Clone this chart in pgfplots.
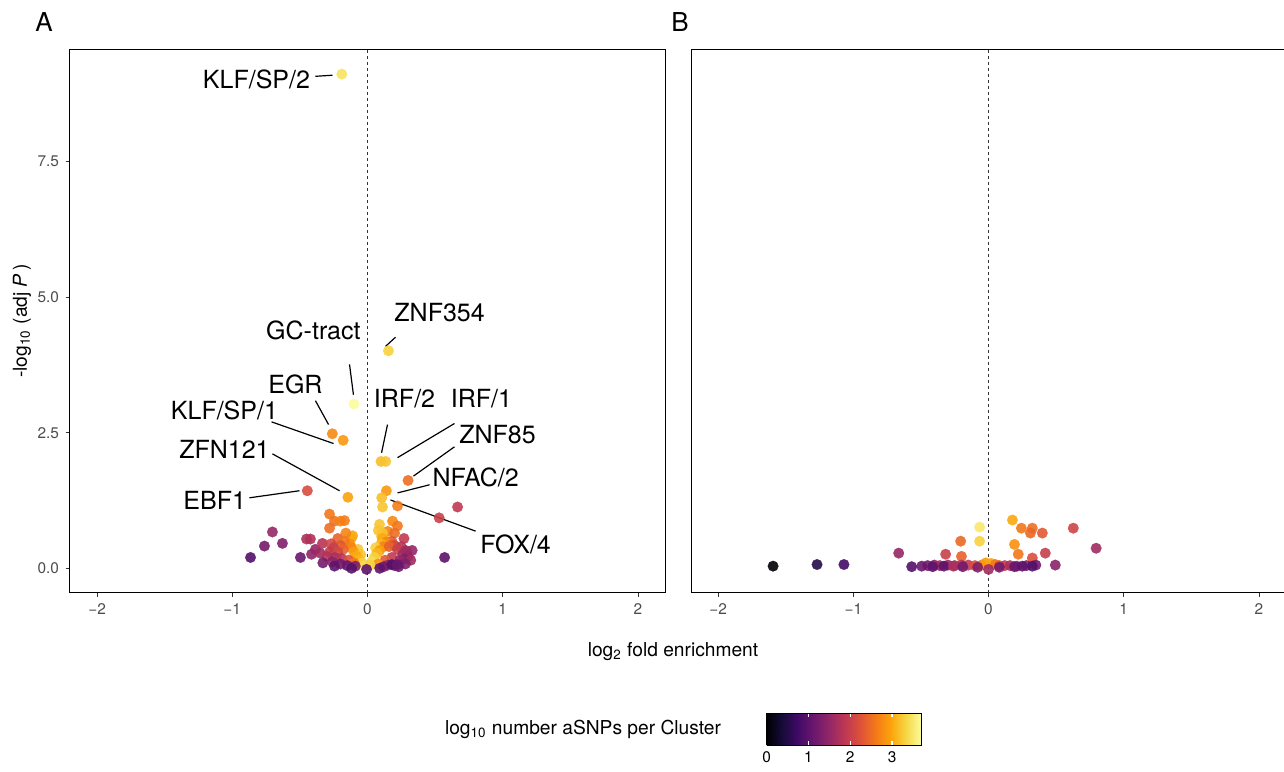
\documentclass[border=0pt]{standalone}
\usepackage{pgfplots}
\pgfplotsset{compat=1.18}
\usepackage{fontspec}
\setmainfont{TeX Gyre Heros}
\definecolor{tickgrey}{HTML}{4D4D4D}
\definecolor{tickmark}{HTML}{333333}

\pgfplotstableread{
x y c
-0.19 9.11 3.45
0.155 4.01 3.3
-0.10 3.03 3.68
-0.26 2.48 2.75
-0.18 2.36 2.85
0.10 1.97 3.15
0.135 1.97 3.2
0.30 1.62 2.5
0.14 1.43 2.85
0.105 1.30 3.15
-0.145 1.31 2.95
-0.445 1.43 2.15
0.666 1.13 1.9
0.53 0.93 2.0
0.111 1.13 3.2
0.222 1.15 2.65
0.089 0.81 3.2
0.185 0.87 2.75
0.222 0.78 2.6
0.104 0.59 3.2
-0.281 1.00 2.6
-0.244 0.87 2.55
-0.281 0.74 2.5
-0.20 0.87 2.7
-0.17 0.88 2.65
-0.118 0.56 3.05
-0.865 0.20 0.9
-0.762 0.41 1.2
-0.703 0.67 1.5
-0.629 0.46 1.3
-0.496 0.20 1.1
-0.451 0.54 1.7
-0.422 0.54 1.75
-0.414 0.26 1.45
-0.385 0.35 1.5
-0.333 0.46 1.8
0.57 0.20 1.0
-0.11 0.60 3.0
-0.16 0.65 2.7
-0.22 0.55 2.4
-0.27 0.45 2.1
-0.13 0.45 2.8
-0.17 0.50 2.6
-0.07 0.35 3.2
-0.12 0.38 2.7
-0.20 0.42 2.3
-0.25 0.38 2.0
-0.35 0.28 1.6
-0.10 0.30 2.9
-0.18 0.35 2.4
-0.28 0.30 1.9
-0.22 0.30 2.1
-0.05 0.25 3.2
-0.08 0.22 3.0
-0.30 0.22 1.8
-0.24 0.20 1.7
-0.19 0.18 1.8
-0.06 0.15 3.1
-0.14 0.15 2.2
-0.04 0.10 3.3
-0.10 0.10 2.6
-0.33 0.10 1.2
-0.26 0.12 1.4
-0.02 0.05 3.4
-0.20 0.08 1.2
-0.15 0.05 1.1
-0.09 0.04 1.3
0.08 0.70 3.2
0.15 0.68 2.7
0.20 0.65 2.5
0.11 0.65 3.2
0.27 0.55 1.9
0.11 0.55 3.0
0.18 0.50 2.3
0.14 0.48 2.6
0.14 0.46 2.8
0.10 0.45 3.1
0.185 0.44 2.4
0.20 0.42 2.1
0.12 0.40 2.7
0.16 0.40 2.4
0.25 0.40 1.8
0.06 0.38 3.3
0.22 0.35 2.0
0.09 0.33 2.9
0.28 0.33 1.7
0.33 0.33 1.5
0.29 0.31 1.6
0.07 0.28 3.1
0.26 0.25 1.6
0.30 0.22 1.5
0.05 0.20 3.3
0.18 0.20 1.9
0.27 0.17 1.3
0.24 0.15 1.5
0.32 0.15 1.6
0.13 0.15 2.3
0.03 0.12 3.4
0.08 0.08 2.8
0.28 0.08 1.3
0.02 0.06 3.3
0.15 0.06 1.6
0.20 0.05 1.3
0.12 0.03 1.2
0.23 0.03 1.1
-0.244 0.04 1.0
-0.118 0.00 0.95
-0.007 -0.02 1.0
0.09 0.00 1.0
0.18 0.07 0.9
0.22 0.07 1.1
}\dataA

\pgfplotstableread{
x y c
-1.593 0.04 0.0
-1.268 0.07 0.5
-1.069 0.07 0.75
-0.664 0.28 1.5
-0.317 0.26 2.0
-0.206 0.50 2.45
-0.20 0.22 2.4
-0.066 0.76 3.5
-0.066 0.50 3.3
0.177 0.89 3.0
0.243 0.74 2.6
0.324 0.74 2.5
0.31 0.65 2.45
0.398 0.65 2.3
0.627 0.74 2.05
0.796 0.37 1.6
0.192 0.44 2.8
0.22 0.26 2.6
0.324 0.19 2.2
0.42 0.28 1.95
0.494 0.06 1.4
-0.45 0.05 1.2
-0.40 0.06 1.4
-0.36 0.05 1.6
-0.30 0.06 1.5
-0.25 0.05 1.7
-0.20 0.06 1.8
-0.15 0.06 1.9
-0.10 0.05 2.2
-0.05 0.06 2.6
-0.02 0.10 2.9
0.02 0.09 3.0
0.05 0.07 2.6
0.08 0.05 2.3
0.12 0.05 1.9
0.16 0.05 1.7
0.21 0.04 1.5
0.28 0.05 1.3
0.35 0.06 1.2
-0.568 0.03 0.9
-0.494 0.04 1.1
-0.413 0.03 1.0
-0.33 0.04 1.0
-0.26 0.04 1.7
-0.19 0.03 1.2
-0.08 0.02 1.3
0.0 -0.02 1.6
0.08 0.02 1.2
0.192 0.03 1.1
0.25 0.04 1.0
0.324 0.04 0.9
}\dataB

\pgfplotsset{
  colormap={inferno}{rgb255=(0,0,4) rgb255=(22,11,57) rgb255=(66,10,104) rgb255=(106,23,110) rgb255=(147,38,103) rgb255=(188,55,84) rgb255=(221,81,58) rgb255=(243,120,25) rgb255=(252,165,10) rgb255=(246,215,70) rgb255=(252,255,164)},
  volc/.style={
    scale only axis, width=297.5pt, height=271.5pt,
    xmin=-2.2, xmax=2.2, ymin=-0.455, ymax=9.555,
    xtick={-2,-1,0,1,2}, xticklabels={−2,−1,0,1,2},
    axis line style={black, line width=0.5pt},
    tick align=outside, major tick length=2pt,
    tick style={tickmark, line width=0.45pt},
    tick pos=left,
    ticklabel style={font=\fontsize{7.7}{9}\selectfont, text=tickgrey},
    point meta min=0, point meta max=3.71,
    colormap name=inferno,
  },
  dots/.style={scatter, only marks, mark=*, mark size=2.65pt, scatter src=explicit,
    scatter/use mapped color={draw=mapped color, fill=mapped color},
    mark options={line width=0.1pt, opacity=0.9}},
}

\begin{document}
\begin{tikzpicture}
\begin{axis}[volc, at={(35pt,89pt)}, anchor=south west,
  ytick={0,2.5,5,7.5}, yticklabels={0.0,2.5,5.0,7.5}]
\addplot[dots] table[x=x, y=y, meta=c] {\dataA};
\draw[black!80, line width=0.45pt, dash pattern=on 1.6pt off 1.4pt] (0,-0.455) -- (0,9.555);
\begin{scope}[every node/.style={font=\fontsize{12.5}{14}\selectfont}, line width=0.6pt]
\node at (-0.821,9.02) {KLF/SP/2};
\draw (-0.385,9.07) -- (-0.259,9.09);
\node at (0.533,4.72) {ZNF354};
\draw (0.207,4.26) -- (0.133,4.09);
\node at (-0.40,4.39) {GC-tract};
\draw (-0.133,3.76) -- (-0.104,3.20);
\node at (-0.533,3.39) {EGR};
\draw (-0.385,3.09) -- (-0.288,2.65);
\node at (-1.058,2.91) {KLF/SP/1};
\draw (-0.71,2.70) -- (-0.251,2.30);
\node at (0.274,3.13) {IRF/2};
\draw (0.148,2.65) -- (0.104,2.13);
\node at (0.843,3.13) {IRF/1};
\draw (0.643,2.67) -- (0.222,2.04);
\node at (0.962,2.46) {ZNF85};
\draw (0.643,2.24) -- (0.34,1.70);
\node at (0.80,1.67) {NFAC/2};
\draw (0.459,1.54) -- (0.222,1.39);
\node at (1.095,0.44) {FOX/4};
\draw (0.80,0.685) -- (0.17,1.26);
\node at (-1.058,2.20) {ZFN121};
\draw (-0.703,2.11) -- (-0.207,1.43);
\node at (-1.13,1.26) {EBF1};
\draw (-0.873,1.30) -- (-0.503,1.43);
\end{scope}
\end{axis}

\begin{axis}[volc, at={(345.5pt,89pt)}, anchor=south west, ytick=\empty]
\addplot[dots] table[x=x, y=y, meta=c] {\dataB};
\draw[black!80, line width=0.45pt, dash pattern=on 1.6pt off 1.4pt] (0,-0.455) -- (0,9.555);
\end{axis}

% colour bar
\begin{axis}[at={(383.35pt,13pt)}, anchor=south west, scale only axis,
  width=77.5pt, height=16pt, view={0}{90},
  xmin=0, xmax=3.71, ymin=0, ymax=1, ytick=\empty,
  xtick={0,1,2,3}, xticklabels={0,1,2,3}, tick align=inside, xtick pos=both, major tick length=2.2pt,
  tick style={white, line width=0.6pt},
  axis line style={black, line width=0.4pt},
  xticklabel style={font=\fontsize{7.7}{9}\selectfont, text=black},
  colormap name=inferno, point meta min=0, point meta max=3.71, axis on top]
\addplot3[surf, shader=interp, point meta=x] table {
x y z
0 0 0
0.371 0 0
0.742 0 0
1.113 0 0
1.484 0 0
1.855 0 0
2.226 0 0
2.597 0 0
2.968 0 0
3.339 0 0
3.71 0 0

0 1 0
0.371 1 0
0.742 1 0
1.113 1 0
1.484 1 0
1.855 1 0
2.226 1 0
2.597 1 0
2.968 1 0
3.339 1 0
3.71 1 0
};
\end{axis}

\node[font=\fontsize{9.6}{11}\selectfont] at (291.5pt,21pt) {log\textsubscript{10} number aSNPs per Cluster};
\node[font=\fontsize{9.6}{11}\selectfont] at (336.5pt,59.5pt) {log\textsubscript{2} fold enrichment};
\node[font=\fontsize{9.6}{11}\selectfont, rotate=90] at (11pt,225pt) {-log\textsubscript{10} (adj \textit{P}\,)};
\node[font=\fontsize{13}{15}\selectfont] at (22pt,374.5pt) {A};
\node[font=\fontsize{13}{15}\selectfont] at (340pt,374.5pt) {B};

\pgfresetboundingbox
\useasboundingbox (0,0) rectangle (642pt,385.5pt);
\end{tikzpicture}
\end{document}
